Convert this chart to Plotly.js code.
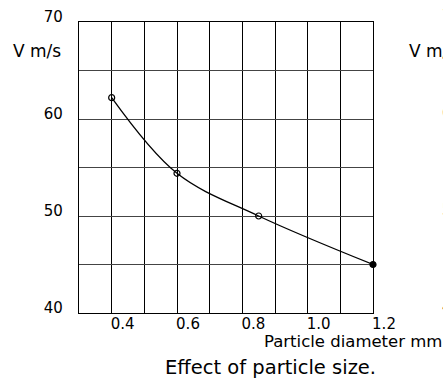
<!DOCTYPE html>
<html>
<head>
<meta charset="utf-8">
<script src="https://cdn.plot.ly/plotly-3.0.1.min.js"></script>
<style>
html,body{margin:0;padding:0;background:#fff;}
#chart{width:443px;height:384px;}
</style>
</head>
<body>
<div id="chart"></div>
<script>
// Data
const diameter = [0.4, 0.6, 0.85, 1.2];        // particle diameter, mm
const velocity = [62.2, 54.4, 50.0, 45.0];     // V, m/s

// Axis ticks (grid every step, labels on some)
const xTickVals = [0.3, 0.4, 0.5, 0.6, 0.7, 0.8, 0.9, 1.0, 1.1, 1.2];
const xTickText = ['', '0.4', '', '0.6', '', '0.8', '', '1.0', '', '1.2'];
const yTickVals = [40, 45, 50, 55, 60, 65, 70];
const yTickText = ['40', '', '50', '', '60', '', '70'];

// Texts
const yLabel = 'V m/s';
const xLabel = 'Particle diameter mm';
const caption = 'Effect of particle size.';
// Cut-off labels of the neighbouring chart at the right edge
const neighbourYLabel = 'V m/s';
const neighbourTicks = ['70', '60', '50', '40'];
const neighbourTickY = [70, 60, 50, 40];

const FONT = 'DejaVu Sans, sans-serif';

const trace = {
  type: 'scatter',
  mode: 'lines+markers',
  x: diameter,
  y: velocity,
  line: {color: '#000', width: 1.3, shape: 'spline', smoothing: 1},
  marker: {
    symbol: ['circle-open', 'circle-open', 'circle-open', 'circle'],
    size: 6,
    color: '#000',
    line: {color: '#000', width: 1.2}
  },
  cliponaxis: false,
  hoverinfo: 'x+y'
};

const annotations = [
  {xref: 'paper', yref: 'paper', x: -0.0544, y: 0.9, xanchor: 'right', yanchor: 'middle',
   text: yLabel, showarrow: false, font: {family: FONT, size: 17, color: '#000'}},
  {xref: 'paper', yref: 'paper', x: 0.621, y: -0.097, xanchor: 'left', yanchor: 'middle',
   text: xLabel, showarrow: false, font: {family: FONT, size: 16.5, color: '#000'}},
  {xref: 'paper', yref: 'paper', x: 0.651, y: -0.187, xanchor: 'center', yanchor: 'middle',
   text: caption, showarrow: false, font: {family: FONT, size: 19.5, color: '#000'}},
  {xref: 'paper', yref: 'paper', x: 1.116, y: 0.9, xanchor: 'left', yanchor: 'middle',
   text: neighbourYLabel, showarrow: false, font: {family: FONT, size: 17, color: '#000'}}
];
neighbourTicks.forEach((t, i) => {
  annotations.push({xref: 'paper', yref: 'y', x: 1.229, y: neighbourTickY[i], yshift: 6,
    xanchor: 'left', yanchor: 'middle', text: t, showarrow: false,
    font: {family: FONT, size: 15, color: '#000'}});
});

const layout = {
  width: 443,
  height: 384,
  margin: {l: 79, r: 70, t: 22, b: 71, pad: 0},
  paper_bgcolor: '#fff',
  plot_bgcolor: '#fff',
  showlegend: false,
  font: {family: FONT, size: 15, color: '#000'},
  xaxis: {
    range: [0.3, 1.2],
    tickvals: xTickVals,
    ticktext: xTickText,
    ticks: '',
    showgrid: true,
    gridcolor: '#000',
    gridwidth: 1,
    zeroline: false,
    showline: true,
    linecolor: '#000',
    linewidth: 1.2,
    mirror: true,
    ticklabelshift: 11,
    ticklabelstandoff: -3,
    tickfont: {family: FONT, size: 15, color: '#000'}
  },
  yaxis: {
    range: [40, 70],
    tickvals: yTickVals,
    ticktext: yTickText,
    ticks: '',
    showgrid: true,
    gridcolor: '#444',
    gridwidth: 1,
    zeroline: false,
    showline: true,
    linecolor: '#000',
    linewidth: 1.2,
    mirror: true,
    ticklabelshift: -5,
    ticklabelstandoff: 12,
    tickfont: {family: FONT, size: 15, color: '#000'}
  },
  annotations: annotations
};

Plotly.newPlot('chart', [trace], layout, {staticPlot: true, displayModeBar: false});
</script>
</body>
</html>
